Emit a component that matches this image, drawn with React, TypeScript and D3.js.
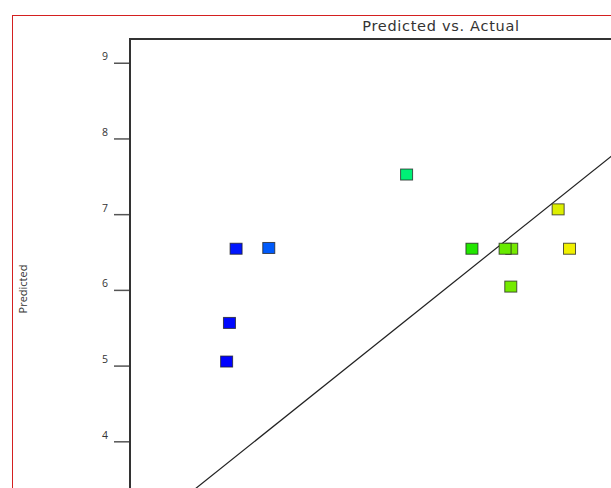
import { scaleLinear, line, interpolateHsl } from "d3";

const actual = [3.71, 3.74, 3.81, 4.155, 5.61, 6.3, 6.72, 6.65, 6.71, 7.21, 7.33];
const predicted = [5.06, 5.57, 6.55, 6.56, 7.53, 6.55, 6.55, 6.55, 6.05, 7.07, 6.55];
const yTicks = [4, 5, 6, 7, 8, 9];
const axisRange = [2.69, 9.32];

const width = 611;
const height = 488;
const plot = { left: 130, top: 39, right: 758, bottom: 541 };

const font = "'Open Sans', 'DejaVu Sans', sans-serif";

const App = () => {
  const x = scaleLinear().domain(axisRange).range([plot.left, plot.right]);
  const y = scaleLinear().domain(axisRange).range([plot.bottom, plot.top]);

  const color = scaleLinear<string>()
    .domain([3.7, 5.6, 6.3, 7.3])
    .range(["#0000ff", "#00f078", "#22e600", "#f0f000"])
    .interpolate(interpolateHsl)
    .clamp(true);

  const diag = line<number>()
    .x((d) => x(d))
    .y((d) => y(d));

  const boxW = 12;
  const boxH = 11;

  return (
    <svg
      width={width}
      height={height}
      style={{ position: "absolute", left: 0, top: 0, background: "#fff" }}
    >
      <defs>
        <clipPath id="plotClip">
          <rect
            x={plot.left}
            y={plot.top}
            width={plot.right - plot.left}
            height={plot.bottom - plot.top}
          />
        </clipPath>
      </defs>

      {/* outer red frame */}
      <rect x={12.5} y={15.5} width={width + 20} height={height + 20} fill="none" stroke="#d42020" strokeWidth={1} />

      <text
        x={441}
        y={31}
        textAnchor="middle"
        fontFamily="'DejaVu Sans', sans-serif"
        fontSize={14.5}
        letterSpacing={0.7}
        fill="#333"
      >
        Predicted vs. Actual
      </text>

      <text
        transform={`translate(27, 289) rotate(-90)`}
        textAnchor="middle"
        fontFamily={font}
        fontSize={11}
        fill="#333"
      >
        Predicted
      </text>

      {yTicks.map((t) => (
        <g key={t}>
          <line x1={114} x2={plot.left} y1={y(t)} y2={y(t)} stroke="#555" strokeWidth={1.5} />
          <text x={108} y={y(t) - 3} textAnchor="end" fontFamily={font} fontSize={10.5} fill="#333">
            {t}
          </text>
        </g>
      ))}

      <g clipPath="url(#plotClip)">
        <path d={diag(axisRange) ?? ""} fill="none" stroke="#222" strokeWidth={1.2} />
        {actual.map((a, i) => (
          <rect
            key={i}
            x={x(a) - boxW / 2}
            y={y(predicted[i]) - boxH / 2}
            width={boxW}
            height={boxH}
            fill={color(a)}
            stroke="#202020"
            strokeOpacity={0.75}
            strokeWidth={1}
          />
        ))}
      </g>

      <rect
        x={plot.left}
        y={plot.top}
        width={plot.right - plot.left}
        height={plot.bottom - plot.top}
        fill="none"
        stroke="#333"
        strokeWidth={2}
      />
    </svg>
  );
};

export default App;
